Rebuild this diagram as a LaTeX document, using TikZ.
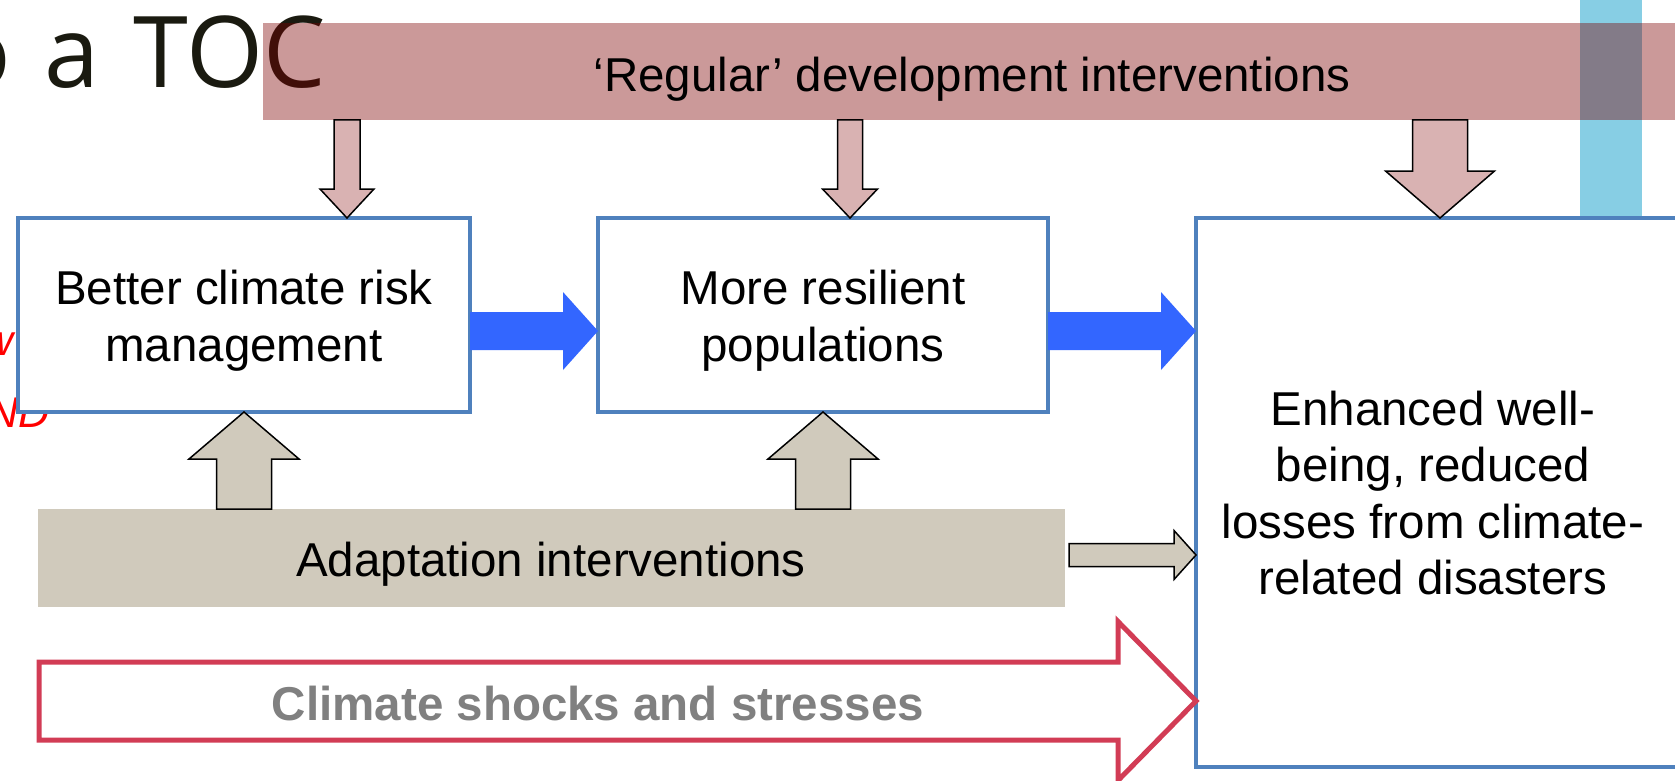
\documentclass[tikz,border=0pt]{standalone}
\usepackage{fontspec}
\setmainfont{Liberation Sans}
\newfontfamily\titlefont{Open Sans}
\usetikzlibrary{calc}
\definecolor{boxblue}{HTML}{4F81BD}
\definecolor{arrowblue}{HTML}{3366FF}
\definecolor{pinkfill}{RGB}{217,178,178}
\definecolor{beige}{RGB}{208,202,188}
\definecolor{shockred}{HTML}{D23C55}
\definecolor{graytext}{RGB}{128,128,128}
\definecolor{cyanbar}{RGB}{135,206,228}
\definecolor{barred}{RGB}{125,0,0}
\definecolor{titlecol}{RGB}{26,26,16}
\newcommand\blockarrow[6]{%
  \coordinate (bah) at ($(#3)!#6!(#2)$);
  \path[#1] ($(#2)!#4!90:(#3)$) -- ($(bah)!#4!90:(#3)$) -- ($(bah)!#5!90:(#3)$)
    -- (#3) -- ($(bah)!#5!-90:(#3)$) -- ($(bah)!#4!-90:(#3)$) -- ($(#2)!#4!-90:(#3)$) -- cycle;
}
\tikzset{
  box/.style={draw=boxblue, line width=4pt, fill=white, inner sep=0pt, outer sep=0pt},
  lbl/.style={align=center, font=\fontsize{47.5}{56.6}\selectfont, inner sep=0pt, outer sep=0pt, text=black},
  regbar/.style={fill=barred, fill opacity=0.4, draw=none, inner sep=0pt, outer sep=0pt},
  adaptbar/.style={fill=beige, draw=none, inner sep=0pt, outer sep=0pt},
  downarrow/.style={fill=pinkfill, draw=black, line width=1.5pt, line join=miter},
  beigearrow/.style={fill=beige, draw=black, line width=1.5pt, line join=miter},
  bluearrow/.style={fill=arrowblue, draw=none},
  shockarrow/.style={fill=white, draw=shockred, line width=5pt, line join=miter},
  redit/.style={font=\fontsize{43}{50}\selectfont\itshape, text=red, inner sep=0pt},
  titletext/.style={font=\titlefont\fontsize{99}{120}\selectfont, text=titlecol, inner sep=0pt}
}
\begin{document}
\begin{tikzpicture}[x=1pt,y=-1pt]
\useasboundingbox (0,0) rectangle (1675,781);
\clip (0,0) rectangle (1675,781);
\fill[white] (0,0) rectangle (1675,781);

% cyan vertical bar
\fill[cyanbar] (1580,0) rectangle (1642,218);

% title fragment
\node[titletext, anchor=base east] (title) at (326,88) {\spaceskip=0.34em o a TOC};

% red italic fragments at left edge
\node[redit, anchor=base east] (rw) at (14,355) {w};
\node[redit, anchor=base east] (rnd) at (50,427) {ND};

% regular development bar
\node[regbar, minimum width=1430pt, minimum height=97pt, anchor=north west] (reg) at (263,23) {};
\node[lbl, anchor=base] (regt) at (972,92) {‘Regular’ development interventions};

% boxes
\node[box, minimum width=452pt, minimum height=194pt] (b1) at (244,315) {};
\node[box, minimum width=450pt, minimum height=194pt] (b2) at (823,315) {};
\node[box, minimum width=500pt, minimum height=549pt, anchor=north west] (b3) at (1196,218) {};
\node[lbl] (b1t) at (244,321) {Better climate risk\\management};
\node[lbl] (b2t) at (823,321) {More resilient\\populations};
\node[lbl] (b3t) at (1433,493) {Enhanced well-\\being, reduced\\losses from climate-\\related disasters};

% adaptation bar
\node[adaptbar, minimum width=1027pt, minimum height=98pt, anchor=north west] (adapt) at (38,509) {};
\node[lbl, anchor=base] (adaptt) at (551,576) {Adaptation interventions};

% down arrows from regular bar
\coordinate (d1s) at (347,120);
\coordinate (d1e) at (d1s |- b1.north);
\coordinate (d2s) at (850,120);
\coordinate (d2e) at (d2s |- b2.north);
\coordinate (d3s) at (1440,120);
\coordinate (d3e) at (d3s |- b3.north);
\blockarrow{downarrow}{d1s}{d1e}{13pt}{27pt}{29pt}
\blockarrow{downarrow}{d2s}{d2e}{12.5pt}{27.5pt}{29pt}
\blockarrow{downarrow}{d3s}{d3e}{27.5pt}{54.5pt}{47pt}

% blue arrows
\coordinate (r1s) at ([yshift=-16pt]b1.east);
\coordinate (r1e) at ([yshift=-16pt]b2.west);
\coordinate (r2s) at ([yshift=-16pt]b2.east);
\coordinate (r2e) at (r2s -| b3.west);
\blockarrow{bluearrow}{r1s}{r1e}{19pt}{39pt}{35pt}
\blockarrow{bluearrow}{r2s}{r2e}{19pt}{39pt}{35pt}

% up arrows from adaptation bar
\coordinate (u1s) at (b1.south |- adapt.north);
\coordinate (u2s) at (b2.south |- adapt.north);
\blockarrow{beigearrow}{u1s}{b1.south}{27.5pt}{55pt}{47pt}
\blockarrow{beigearrow}{u2s}{b2.south}{27.5pt}{55pt}{47pt}

% adaptation to outcome
\coordinate (a3s) at (1069,555);
\coordinate (a3e) at (a3s -| b3.west);
\blockarrow{beigearrow}{a3s}{a3e}{11.5pt}{24.5pt}{22pt}

% climate shocks arrow
\coordinate (cs) at (39,701);
\coordinate (ce) at (cs -| b3.west);
\blockarrow{shockarrow}{cs}{ce}{39pt}{79.5pt}{78pt}
\node[lbl, font=\fontsize{47.5}{56}\selectfont\bfseries, text=graytext, anchor=base] (cst) at (598,720) {Climate shocks and stresses};
\end{tikzpicture}
\end{document}
